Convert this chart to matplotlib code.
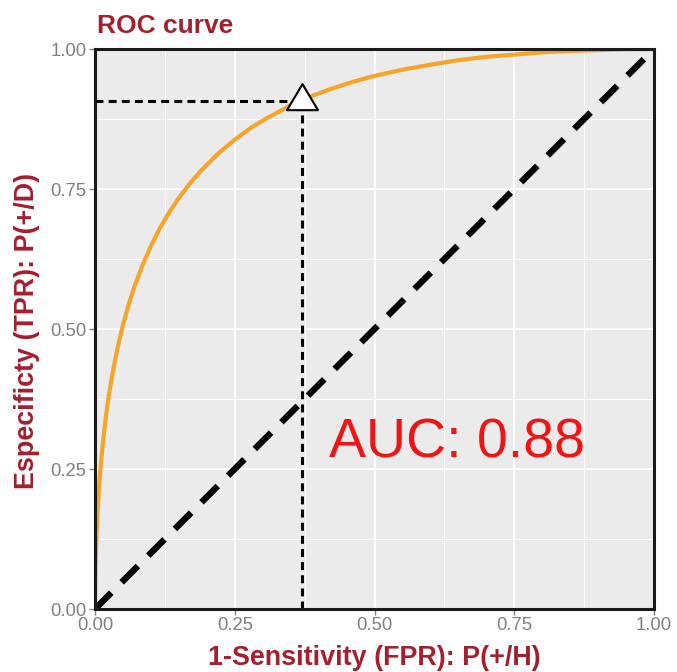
import matplotlib
matplotlib.use("Agg")
import matplotlib.pyplot as plt
from matplotlib.ticker import MultipleLocator
from matplotlib.path import Path

plt.rcParams['font.family'] = ['Liberation Sans', 'DejaVu Sans']

# ROC curve points (false positive rate, true positive rate)
fpr = [0.0, 0.0001, 0.0005, 0.001, 0.002, 0.003, 0.005, 0.0075, 0.01, 0.015,
       0.02, 0.025, 0.03, 0.04, 0.05, 0.06, 0.07, 0.085, 0.10, 0.115,
       0.13, 0.15, 0.17, 0.19, 0.22, 0.25, 0.28, 0.31, 0.35, 0.385,
       0.42, 0.46, 0.50, 0.55, 0.60, 0.65, 0.70, 0.75, 0.80, 0.85,
       0.90, 0.95, 1.0]
tpr = [0.0, 0.020, 0.052, 0.077, 0.112, 0.139, 0.180, 0.221, 0.253, 0.306,
       0.348, 0.383, 0.413, 0.465, 0.507, 0.543, 0.574, 0.614, 0.648, 0.678,
       0.704, 0.734, 0.760, 0.783, 0.813, 0.838, 0.860, 0.878, 0.899, 0.915,
       0.928, 0.941, 0.952, 0.963, 0.972, 0.980, 0.986, 0.990, 0.994, 0.9965,
       0.998, 0.9995, 1.0]

# Selected operating point
cut_fpr = 0.37
cut_tpr = 0.907

auc_value = 0.88
ticks = [0.0, 0.25, 0.50, 0.75, 1.0]
tick_labels = ["0.00", "0.25", "0.50", "0.75", "1.00"]

title_color = "#A3202E"
tick_color = "#808080"

W, H = 677, 672
fig = plt.figure(figsize=(W / 100, H / 100), dpi=100)
ax = fig.add_axes([95 / W, 1 - 609 / H, (654 - 95) / W, (609 - 49) / H])

ax.set_facecolor("#EBEBEB")
ax.set_xlim(0, 1)
ax.set_ylim(0, 1)
ax.xaxis.set_minor_locator(MultipleLocator(0.125))
ax.yaxis.set_minor_locator(MultipleLocator(0.125))
ax.set_xticks(ticks)
ax.set_yticks(ticks)
ax.set_xticklabels(tick_labels)
ax.set_yticklabels(tick_labels)
ax.grid(which="major", color="white", linewidth=1.4)
ax.grid(which="minor", color="white", linewidth=0.7)
ax.set_axisbelow(True)
ax.tick_params(which="minor", length=0)
ax.tick_params(which="major", length=4, width=1, color=tick_color,
               labelcolor=tick_color, labelsize=13.3, pad=2)
for s in ax.spines.values():
    s.set_color("#1a1a1a")
    s.set_linewidth(2.2)
    s.set_zorder(10)

# Chance diagonal
ax.plot([0, 1], [0, 1], color="black", linewidth=4.6, linestyle=(0, (3.6, 2.3)),
        dash_capstyle="butt", zorder=3)

# ROC curve
ax.plot(fpr, tpr, color="#F5A52A", linewidth=3.0, zorder=4,
        solid_joinstyle="round")

# Guide lines to the operating point
guide_style = dict(color="black", linewidth=2.2, linestyle=(0, (2.6, 1.7)),
                   dash_capstyle="butt", zorder=5)
ax.plot([0, cut_fpr], [cut_tpr, cut_tpr], **guide_style)
ax.plot([cut_fpr, cut_fpr], [0, cut_tpr], **guide_style)

# Triangle centred on its centroid
tri = Path([(0, 2 / 3), (-0.596, -1 / 3), (0.596, -1 / 3), (0, 2 / 3)],
           [Path.MOVETO, Path.LINETO, Path.LINETO, Path.CLOSEPOLY])
ax.plot([cut_fpr], [cut_tpr], marker=tri, markersize=25, markerfacecolor="white",
        markeredgecolor="black", markeredgewidth=1.5, linestyle="none", zorder=6,
        clip_on=False)

ax.text(0.648, 0.296, f"AUC: {auc_value:.2f}", color="#F01414", fontsize=40,
        ha="center", va="center", zorder=7)

fig.text(97 / W, 1 - 33 / H, "ROC curve", color=title_color, fontsize=19,
         fontweight="bold", ha="left", va="baseline")
fig.text(374.5 / W, 1 - 665 / H, "1-Sensitivity (FPR): P(+/H)", color=title_color,
         fontsize=19.4, fontweight="bold", ha="center", va="baseline")
fig.text(34 / W, 1 - 331 / H, "Especificty (TPR): P(+/D)", color=title_color,
         fontsize=19.4, fontweight="bold", ha="center", va="baseline",
         rotation=90, rotation_mode="anchor")

fig.savefig("out.png", dpi=100, facecolor="white")
